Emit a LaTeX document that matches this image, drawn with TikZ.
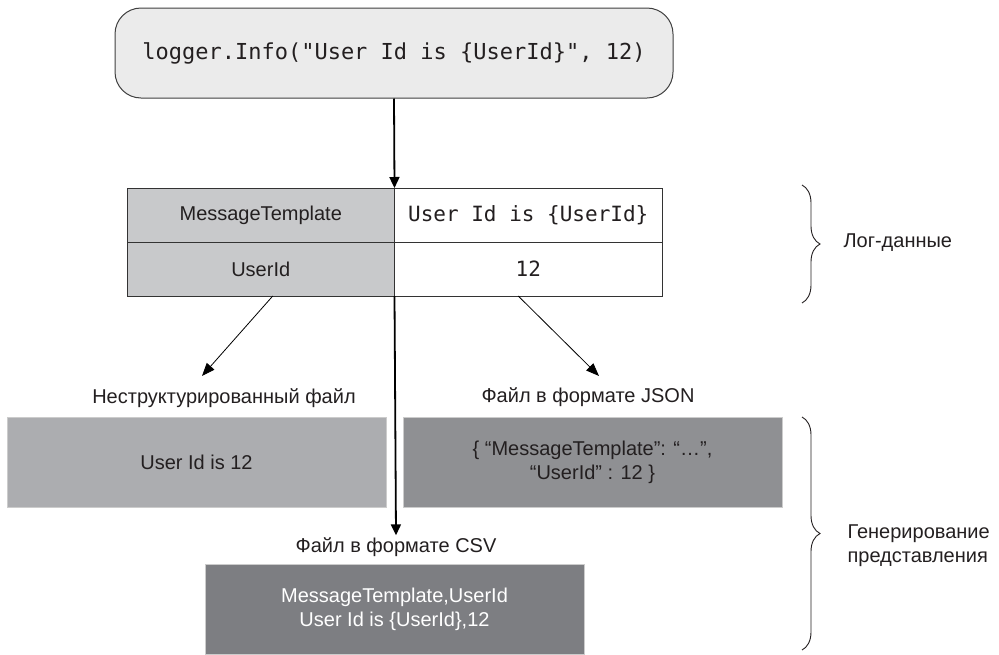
\documentclass[tikz,border=0pt]{standalone}
\usepackage{fontspec}
\setmainfont{Liberation Sans}
\setmonofont{DejaVu Sans Mono}
\usetikzlibrary{arrows.meta, positioning, decorations.pathreplacing}
\definecolor{ink}{HTML}{231F20}
\definecolor{callfill}{HTML}{EBEBEB}
\definecolor{keyfill}{HTML}{C8C9CB}
\definecolor{rawfill}{HTML}{ACADB0}
\definecolor{jsonfill}{HTML}{8F9093}
\definecolor{csvfill}{HTML}{7D7E82}

\begin{document}
\begin{tikzpicture}[
  x=1pt, y=-1pt,
  every node/.style={font=\fontsize{20}{24}\selectfont, text=ink},
  callbox/.style={rectangle, draw=black!75, line width=1pt, fill=callfill, rounded corners=26pt, minimum width=558pt, minimum height=90pt, font=\fontsize{22}{26}\ttfamily},
  cell/.style={rectangle, draw=black!80, line width=1pt, inner sep=0pt, outer sep=0pt, minimum width=267.5pt, minimum height=54pt},
  keycell/.style={cell, fill=keyfill},
  valcell/.style={cell, fill=white, font=\fontsize{21}{24}\ttfamily},
  outbox/.style={rectangle, draw=black!20, line width=0.8pt, outer sep=0pt, minimum width=379pt, minimum height=90pt, align=center},
  caption/.style={inner sep=2pt},
  arrow/.style={-{Triangle[length=11pt, width=10pt]}, line width=1.8pt, black},
  thinarrow/.style={-{Triangle[length=13pt, width=10pt]}, line width=0.8pt, black},
  grpbrace/.style={decorate, decoration={brace, amplitude=18pt}, line width=0.9pt, ink}
]
\useasboundingbox (0,0) rectangle (999,654);

% Call and log record
\node[callbox] (call) at (394,53) {logger.Info("User Id is \{UserId\}", 12)};
\node[keycell] (tmpl) at (260.75,215) {MessageTemplate};
\node[keycell] (uid) at (260.75,269) {UserId};
\node[valcell] (tval) at (528.25,215) {User Id is \{UserId\}};
\node[valcell] (uval) at (528.25,269) {12};

% Output formats
\node[caption] (rawlbl) at (224,398) {Неструктурированный файл};
\node[caption] (jsonlbl) at (588,397) {Файл в формате JSON};
\node[caption] (csvlbl) at (396,547) {Файл в формате CSV};
\node[outbox, fill=rawfill] (raw) at (196.5,462) {User Id is 12};
\node[outbox, fill=jsonfill] (json) at (592.5,462) {\{ “MessageTemplate”: “…”,\\ “UserId” : 12 \}};
\node[outbox, fill=csvfill, text=white] (csv) at (394.5,609) {MessageTemplate,UserId\\ User Id is \{UserId\},12};

% Arrows
\coordinate (rawtip) at (202,376);
\coordinate (jsontip) at (599,376);
\draw[arrow] (call.south) -- (tmpl.north east);
\draw[arrow] (uid.south east) -- (csvlbl.north);
\draw[thinarrow] ([xshift=12pt]uid.south) -- (rawtip);
\draw[thinarrow] ([xshift=-10pt]uval.south) -- (jsontip);

% Braces
\coordinate (logtop) at (802,185);
\coordinate (logbot) at (802,303);
\coordinate (gentop) at (802,417);
\coordinate (genbot) at (802,650);
\draw[grpbrace] (logtop) -- (logbot);
\draw[grpbrace] (gentop) -- (genbot);
\node[anchor=west] (logdata) at (840,243) {Лог-данные};
\node[anchor=west, align=left] (gen) at (844,546) {Генерирование\\представления};

\end{tikzpicture}
\end{document}
